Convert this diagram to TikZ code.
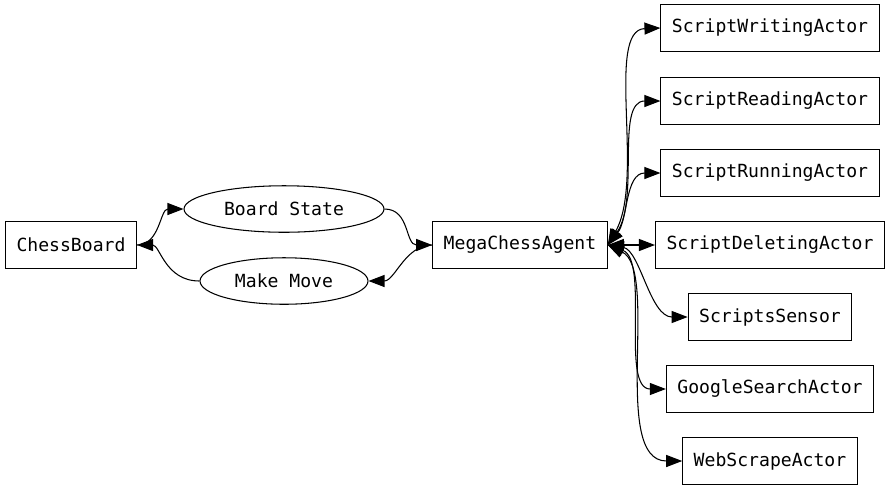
\documentclass[tikz,border=0pt]{standalone}
\usepackage{fontspec}
\setmonofont{DejaVu Sans Mono}
\usetikzlibrary{shapes.geometric, arrows.meta}

\tikzset{
  box/.style={draw, line width=0.6pt, font=\ttfamily\fontsize{10.3}{12}\selectfont,
    inner xsep=0.22cm, inner ysep=0pt, minimum height=0.94cm},
  oval/.style={draw, ellipse, line width=0.6pt, font=\ttfamily\fontsize{10.3}{12}\selectfont,
    inner sep=0pt, minimum height=0.93cm},
  flow/.style={line width=0.6pt, -{Triangle[length=0.32cm, width=0.24cm]}},
  link/.style={line width=0.6pt, {Triangle[length=0.32cm, width=0.24cm]}-{Triangle[length=0.32cm, width=0.24cm]}}
}

\begin{document}
\begin{tikzpicture}[x=0.02cm, y=0.02cm]
  \useasboundingbox (0,0) rectangle (891,-491);

  % board side
  \node[box] (cb) at (71,-245) {ChessBoard};
  \node[oval, minimum width=4cm] (bs) at (284,-209) {Board State};
  \node[oval, minimum width=3.36cm] (mm) at (284,-281) {Make Move};
  \node[box] (mca) at (520,-245) {MegaChessAgent};

  % actors and sensors
  \node[box] (swa) at (770,-28) {ScriptWritingActor};
  \node[box] (sra) at (770,-101) {ScriptReadingActor};
  \node[box] (srua) at (770,-173) {ScriptRunningActor};
  \node[box] (sda) at (770,-245) {ScriptDeletingActor};
  \node[box] (ss) at (770,-317) {ScriptsSensor};
  \node[box] (gsa) at (770,-389) {GoogleSearchActor};
  \node[box] (wsa) at (770,-461) {WebScrapeActor};

  \draw[flow] (cb.east) .. controls (160,-245) and (160,-209) .. (bs.west);
  \draw[flow] (mm.west) .. controls (165,-281) and (160,-245) .. (cb.east);
  \draw[flow] (bs.east) .. controls (410,-209) and (405,-245) .. (mca.west);
  \draw[flow] (mca.west) .. controls (405,-245) and (395,-281) .. (mm.east);

  \draw[link] (mca.east) .. controls (645,-180) and (605,-30) .. (swa.west);
  \draw[link] (mca.east) .. controls (640,-200) and (615,-101) .. (sra.west);
  \draw[link] (mca.east) .. controls (628,-220) and (625,-173) .. (srua.west);
  \draw[link] (mca.east) -- (sda.west);
  \draw[link] (mca.east) .. controls (640,-250) and (650,-317) .. (ss.west);
  \draw[link] (mca.east) .. controls (650,-260) and (620,-389) .. (gsa.west);
  \draw[link] (mca.east) .. controls (660,-270) and (610,-461) .. (wsa.west);
\end{tikzpicture}
\end{document}
